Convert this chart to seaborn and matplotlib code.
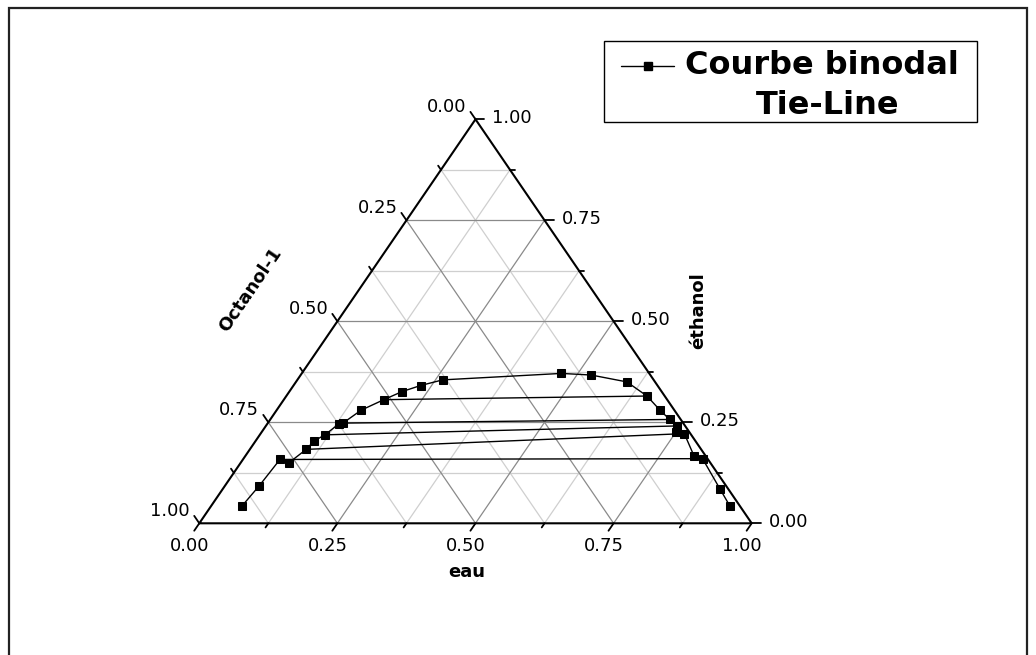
import numpy as np
import pandas as pd
import matplotlib
matplotlib.use("Agg")
import matplotlib.pyplot as plt
import seaborn as sns
from matplotlib.patches import Rectangle
from matplotlib.lines import Line2D

# Binodal curve: water / ethanol mass fractions (octanol-1 = remainder), in curve order
eau = [0.056, 0.062, 0.067, 0.087, 0.102, 0.106, 0.118, 0.130, 0.136, 0.153, 0.181, 0.204, 0.230, 0.263,
       0.470, 0.526, 0.599, 0.653, 0.694, 0.723, 0.744, 0.749, 0.767, 0.812, 0.831, 0.901, 0.938]
ethanol = [0.044, 0.092, 0.158, 0.149, 0.183, 0.204, 0.219, 0.247, 0.248, 0.280, 0.306, 0.326, 0.341, 0.355,
           0.371, 0.367, 0.350, 0.315, 0.280, 0.257, 0.241, 0.227, 0.222, 0.167, 0.160, 0.084, 0.044]

# Tie-lines: organic-rich end and water-rich end
tie_eau_org = [0.181, 0.136, 0.118, 0.102, 0.067]
tie_eth_org = [0.306, 0.248, 0.219, 0.183, 0.158]
tie_eau_aq = [0.653, 0.723, 0.744, 0.767, 0.831]
tie_eth_aq = [0.315, 0.257, 0.241, 0.222, 0.160]

tick_values = [0.0, 0.25, 0.5, 0.75, 1.0]
tick_labels = ["0.00", "0.25", "0.50", "0.75", "1.00"]
minor_values = [0.125, 0.375, 0.625, 0.875]


def to_xy(a, b):
    """Ternary (eau, ethanol) -> cartesian position in the triangle."""
    a = np.asarray(a, float)
    b = np.asarray(b, float)
    return a + b / 2.0, b


sns.set_style("white")
plt.rcParams["font.family"] = ["DejaVu Sans"]
plt.rcParams["text.color"] = "black"

W, H = 1036, 655
fig = plt.figure(figsize=(W / 100, H / 100), dpi=100)
ax = fig.add_axes([199.3 / W, (H - 523.3) / H, 552.4 / W, 404 / H])
ax.set_xlim(0, 1)
ax.set_ylim(0, 1)
ax.axis("off")

sx = 552.4  # px per unit x
sy = 404.0  # px per unit y

# Grid lines (major darker, minor lighter)
for v in minor_values + [0.25, 0.5, 0.75]:
    col = "#8a8a8a" if v in (0.25, 0.5, 0.75) else "#cfcfcf"
    segs = [
        ((v / 2, v), (1 - v / 2, v)),                 # ethanol constant
        ((v, 0), (v + (1 - v) / 2, 1 - v)),           # eau constant
        ((1 - v, 0), ((1 - v) / 2, 1 - v)),           # octanol constant
    ]
    for (x0, y0), (x1, y1) in segs:
        ax.plot([x0, x1], [y0, y1], color=col, lw=0.9, zorder=1)

# Triangle frame
ax.plot([0, 1, 0.5, 0], [0, 0, 1, 0], color="black", lw=1.5, zorder=3,
        clip_on=False, solid_joinstyle="miter")


def tick(x, y, dpx, length):
    d = np.array(dpx, float)
    d /= np.linalg.norm(d)
    ax.plot([x, x + d[0] * length / sx], [y, y + d[1] * length / sy],
            color="black", lw=1.3, clip_on=False, zorder=3)


dir_bottom = (-0.5 * sx, -sy)
dir_left = (-0.5 * sx, sy)
dir_right = (1.0, 0.0)

for v in minor_values:
    tick(v, 0, dir_bottom, 5)
    tick((1 - v) / 2, 1 - v, dir_left, 5)
    tick(1 - v / 2, v, dir_right, 5)

pt = 0.72  # points per pixel at 100 dpi
fs_tick = 13
for v, lab in zip(tick_values, tick_labels):
    # bottom axis: eau
    tick(v, 0, dir_bottom, 9)
    ax.annotate(lab, (v, 0), xytext=(-10 * pt, -23 * pt), textcoords="offset points",
                ha="center", va="center", fontsize=fs_tick, color="black", annotation_clip=False)
    # left axis: octanol-1
    xl, yl = (1 - v) / 2, 1 - v
    tick(xl, yl, dir_left, 9)
    ax.annotate(lab, (xl, yl), xytext=(-29 * pt, 12 * pt), textcoords="offset points",
                ha="center", va="center", fontsize=fs_tick, color="black", annotation_clip=False)
    # right axis: ethanol
    xr, yr = 1 - v / 2, v
    tick(xr, yr, dir_right, 9)
    ax.annotate(lab, (xr, yr), xytext=(17 * pt, 1 * pt), textcoords="offset points",
                ha="left", va="center", fontsize=fs_tick, color="black", annotation_clip=False)

# Tie-lines
tx_o, ty_o = to_xy(tie_eau_org, tie_eth_org)
tx_a, ty_a = to_xy(tie_eau_aq, tie_eth_aq)
n_tie = len(tie_eau_org)
ties = pd.DataFrame({
    "x": np.concatenate([tx_o, tx_a]),
    "y": np.concatenate([ty_o, ty_a]),
    "tie": list(range(n_tie)) * 2,
})
sns.lineplot(data=ties, x="x", y="y", units="tie", estimator=None, sort=False,
             color="black", lw=1.0, ax=ax, legend=False, zorder=4)

# Binodal curve
cx, cy = to_xy(eau, ethanol)
curve = pd.DataFrame({"x": cx, "y": cy})
sns.lineplot(data=curve, x="x", y="y", sort=False, estimator=None, color="black",
             lw=1.0, marker="s", markersize=5.8, markeredgecolor="black",
             markerfacecolor="black", ax=ax, legend=False, zorder=5)
ax.set_xlabel("")
ax.set_ylabel("")
ax.set_xlim(0, 1)
ax.set_ylim(0, 1)
ax.axis("off")


def fx(px):
    return px / W


def fy(py):
    return 1 - py / H


# Axis titles
fig.text(fx(467), fy(572), "eau", fontsize=13, fontweight="bold", ha="center", va="center",
         color="black")
fig.text(fx(698), fy(311), "éthanol", fontsize=13, fontweight="bold", ha="center", va="center",
         rotation=90, color="black")
fig.text(fx(251), fy(290), "Octanol-1", fontsize=13, fontweight="bold", ha="center", va="center",
         rotation=55.7, rotation_mode="anchor", color="black")

# Legend box
fig.add_artist(Rectangle((fx(604), fy(122)), (977 - 604) / W, (122 - 41) / H,
                         transform=fig.transFigure, fill=False, edgecolor="black", lw=1.0))
fig.add_artist(Line2D([fx(621), fx(674)], [fy(65.5), fy(65.5)], transform=fig.transFigure,
                      color="black", lw=1.0))
fig.add_artist(Line2D([fx(648)], [fy(65.5)], transform=fig.transFigure, color="black",
                      marker="s", markersize=5.5, lw=0))
fig.text(fx(685), fy(74), "Courbe binodal", fontsize=23, fontweight="bold", ha="left",
         va="baseline", color="black")
fig.text(fx(828), fy(114), "Tie-Line", fontsize=23, fontweight="bold", ha="center",
         va="baseline", color="black")

# Outer frame
fig.add_artist(Rectangle((fx(9), fy(670)), (1027 - 9) / W, (670 - 8) / H,
                         transform=fig.transFigure, fill=False, edgecolor="#222222", lw=1.6))

fig.savefig("out.png", dpi=100)
